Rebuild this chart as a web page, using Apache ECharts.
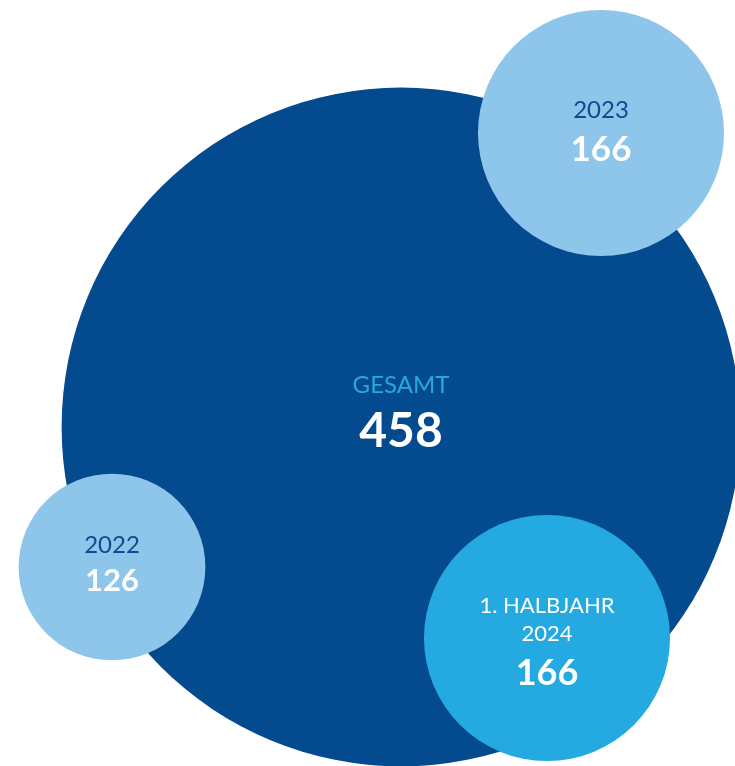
<!DOCTYPE html>
<html>
<head>
<meta charset="utf-8">
<script src="https://cdn.jsdelivr.net/npm/echarts@6/dist/echarts.min.js"></script>
<style>html,body{margin:0;padding:0;background:#fff;}#c{width:735px;height:766px;}</style>
</head>
<body>
<div id="c"></div>
<script>
// Data
var titles = ['GESAMT', '2023', '2022', '1. HALBJAHR\n2024'];
var values = [458, 166, 126, 166];
// Layout positions of bubble centres (abstract layout units)
var posX = [401, 601, 112, 547];
var posY = [427, 133, 567, 638];

var fills = ['#034A8F', '#8EC5EB', '#8EC5EB', '#25A9E1'];
var titleColors = ['#2AA6DF', '#0D4B90', '#0D4B90', '#FFFFFF'];
var titleSizes = [24, 24, 24, 22];
var numSizes = [48, 35, 31, 36];
var titleLH = [40, 36, 34, 28];
var numLH = [54, 44, 38, 50];
var offsets = [-15, -1, -3, 7];
var scale = 1.482; // diameter per unit value

var chart = echarts.init(document.getElementById('c'), null, {renderer: 'canvas'});
var data = values.map(function (v, i) {
  return {
    value: [posX[i], posY[i], v],
    name: titles[i],
    symbolSize: v * scale,
    itemStyle: {color: fills[i], opacity: 1},
    label: {
      show: true,
      position: 'inside',
      offset: [0, offsets[i]],
      formatter: '{t|' + titles[i].split('\n').join('}\n{t|') + '}\n{n|' + v + '}',
      rich: {
        t: {fontFamily: 'Lato', fontSize: titleSizes[i], color: titleColors[i], lineHeight: titleLH[i], align: 'center'},
        n: {fontFamily: 'Lato', fontSize: numSizes[i], fontWeight: 'bold', color: '#FFFFFF', lineHeight: numLH[i], align: 'center'}
      }
    }
  };
});

chart.setOption({
  animation: false,
  backgroundColor: '#FFFFFF',
  grid: {left: 0, right: 0, top: 0, bottom: 0},
  xAxis: {type: 'value', min: 0, max: 735, show: false},
  yAxis: {type: 'value', min: 0, max: 766, inverse: true, show: false},
  series: [{
    type: 'scatter',
    symbol: 'circle',
    data: data,
    emphasis: {disabled: true}
  }]
});
</script>
</body>
</html>
